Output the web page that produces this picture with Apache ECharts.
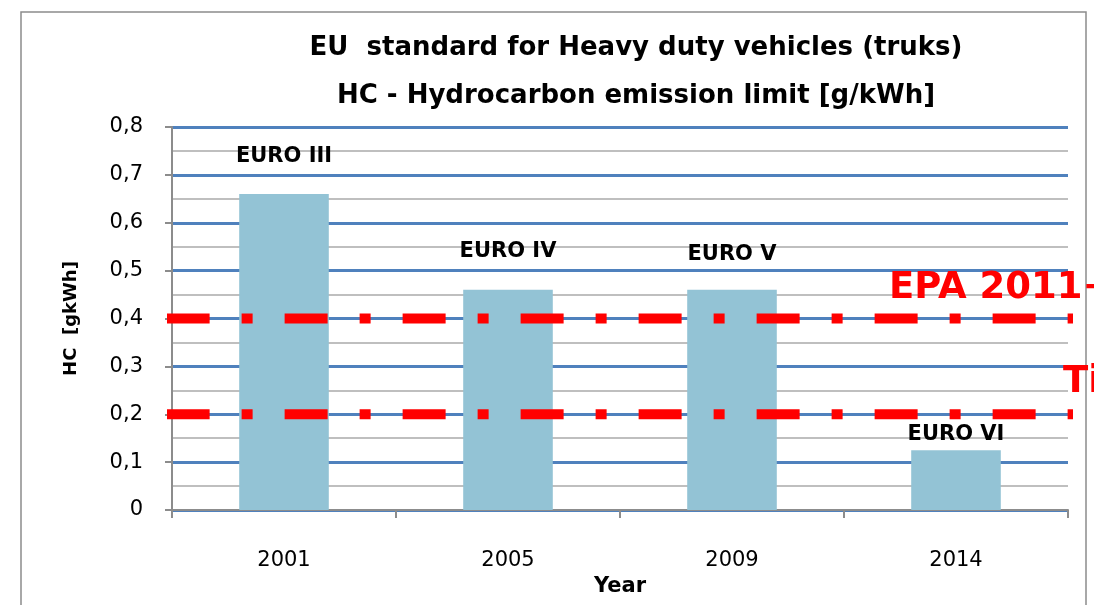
<!DOCTYPE html>
<html>
<head>
<meta charset="utf-8">
<script src="https://cdn.jsdelivr.net/npm/echarts@6/dist/echarts.min.js"></script>
<style>
  html, body { margin: 0; padding: 0; background: #fff; }
  #chart { width: 1094px; height: 605px; }
</style>
</head>
<body>
<div id="chart"></div>
<script>
// values
const years = ['2001', '2005', '2009', '2014']
const hcLimit = [0.66, 0.46, 0.46, 0.125]
const euroNames = ['EURO III', 'EURO IV', 'EURO V', 'EURO VI']
const labelGap = [27, 28, 25, 5]

// red dash-dot reference lines (hidden 0..1 x axis, run a bit past the plot)
const refLevels = [0.4, 0.2]
const refSpan = [-0.006, 1.009]
const refTexts = ['EPA 2011+', 'Tier 2']

const chart = echarts.init(document.getElementById('chart'))

const fontMain = 'DejaVu Sans'

const barData = hcLimit.map((v, i) => ({
  value: v,
  label: {
    show: true,
    position: 'top',
    distance: labelGap[i],
    formatter: euroNames[i],
    color: '#000',
    fontFamily: fontMain,
    fontWeight: 'bold',
    fontSize: 21
  }
}))

const refSeries = refLevels.map(level => ({
  type: 'line',
  xAxisIndex: 1,
  yAxisIndex: 0,
  data: refSpan.map(x => [x, level]),
  symbol: 'none',
  clip: false,
  silent: true,
  z: 10,
  lineStyle: {
    color: '#ff0000',
    width: 10,
    type: [43, 32, 11, 32],
    cap: 'butt'
  }
}))

const option = {
  animation: false,
  textStyle: { fontFamily: fontMain },
  title: {
    text: 'EU  standard for Heavy duty vehicles (truks)\nHC - Hydrocarbon emission limit [g/kWh]',
    left: 636,
    textAlign: 'center',
    top: 24,
    padding: 0,
    textStyle: {
      fontFamily: fontMain,
      fontWeight: 'bold',
      fontSize: 26,
      lineHeight: 48,
      color: '#000'
    }
  },
  grid: {
    left: 172,
    right: 26,
    top: 127,
    bottom: 95,
    containLabel: false
  },
  xAxis: [
    {
      type: 'category',
      data: years,
      boundaryGap: true,
      name: 'Year',
      nameLocation: 'middle',
      nameGap: 64,
      nameTextStyle: {
        fontFamily: fontMain,
        fontWeight: 'bold',
        fontSize: 21,
        color: '#000'
      },
      axisLine: { lineStyle: { color: '#8c8c8c', width: 2 } },
      axisTick: { show: true, alignWithLabel: false, length: 8, lineStyle: { color: '#8c8c8c', width: 2 } },
      axisLabel: { color: '#000', fontSize: 21, margin: 40 },
      splitLine: { show: false }
    },
    {
      type: 'value',
      min: 0,
      max: 1,
      show: false
    }
  ],
  yAxis: {
    type: 'value',
    min: 0,
    max: 0.8,
    interval: 0.1,
    name: 'HC  [gkWh]',
    nameLocation: 'middle',
    nameGap: 92,
    nameTextStyle: {
      fontFamily: fontMain,
      fontWeight: 'bold',
      fontSize: 18,
      color: '#000'
    },
    axisLine: { show: true, lineStyle: { color: '#8c8c8c', width: 2 } },
    axisTick: { show: true, length: 7, lineStyle: { color: '#8c8c8c', width: 2 } },
    axisLabel: {
      color: '#000',
      fontSize: 21,
      margin: 29,
      formatter: v => v === 0 ? '0' : v.toFixed(1).replace('.', ',')
    },
    splitLine: { show: true, lineStyle: { color: '#4f81bd', width: 3 } },
    minorTick: { show: false, splitNumber: 2 },
    minorSplitLine: { show: true, lineStyle: { color: '#bfbfbf', width: 2 } }
  },
  series: [
    {
      type: 'bar',
      data: barData,
      barWidth: '40%',
      itemStyle: { color: '#93c3d5' },
      z: 3
    },
    ...refSeries
  ],
  graphic: [
    {
      type: 'rect',
      shape: { x: 21, y: 12, width: 1065, height: 700 },
      style: { fill: 'none', stroke: '#8c8c8c', lineWidth: 1.5 },
      z: 0,
      silent: true
    },
    {
      type: 'text',
      x: 889,
      y: 288,
      z: 20,
      style: {
        text: refTexts[0],
        fill: '#ff0000',
        font: 'bold 37px "DejaVu Sans"',
        verticalAlign: 'middle'
      }
    },
    {
      type: 'text',
      x: 1063,
      y: 382,
      z: 20,
      style: {
        text: refTexts[1],
        fill: '#ff0000',
        font: 'bold 37px "DejaVu Sans"',
        verticalAlign: 'middle'
      }
    }
  ]
}

chart.setOption(option)
</script>
</body>
</html>
